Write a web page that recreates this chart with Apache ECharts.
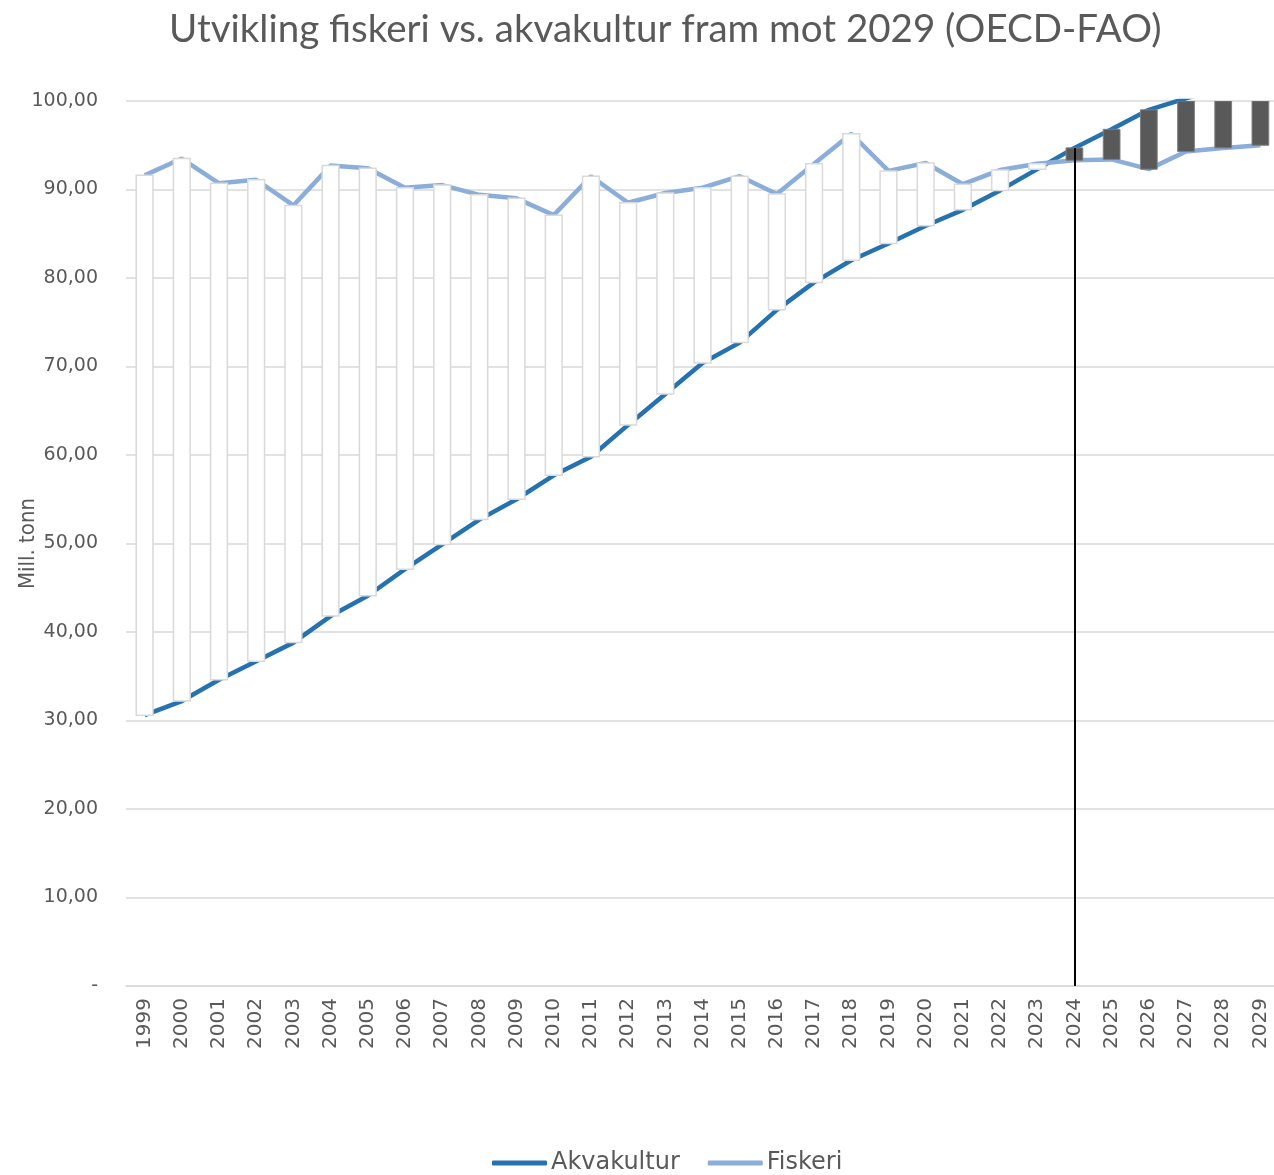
<!DOCTYPE html>
<html>
<head>
<meta charset="utf-8">
<script src="https://cdn.jsdelivr.net/npm/echarts@6/dist/echarts.min.js"></script>
<style>
  html, body { margin: 0; padding: 0; background: #fff; }
  #main { width: 1274px; height: 1175px; }
</style>
</head>
<body>
<div id="main"></div>
<script>
    // data (mill. tonn)
    var years = ['1999','2000','2001','2002','2003','2004','2005','2006','2007','2008',
                 '2009','2010','2011','2012','2013','2014','2015','2016','2017','2018',
                 '2019','2020','2021','2022','2023','2024','2025','2026','2027','2028','2029']
    var akvakultur = [30.6, 32.2, 34.6, 36.7, 38.8, 41.8, 44.1, 47.1, 49.9, 52.7,
                      55.0, 57.7, 59.8, 63.4, 66.9, 70.4, 72.7, 76.4, 79.5, 82.0,
                      83.9, 85.9, 87.7, 89.9, 92.3, 94.7, 96.8, 99.0, 100.3, 101.5, 102.7]
    var fiskeri = [91.6, 93.5, 90.7, 91.1, 88.2, 92.7, 92.4, 90.2, 90.5, 89.4,
                   89.0, 87.1, 91.5, 88.5, 89.6, 90.2, 91.5, 89.5, 92.9, 96.3,
                   92.1, 93.0, 90.6, 92.2, 92.9, 93.3, 93.4, 92.3, 94.3, 94.7, 95.0]
    var markYear = '2024'

    var myChart = echarts.init(document.getElementById('main'))

    var textColor = '#595959'
    var font = '"DejaVu Sans", sans-serif'

    // up/down bars between the two lines (Excel style)
    var barData = years.map(function (y, i) { return [i, akvakultur[i], fiskeri[i]] })

    function renderBar(params, api) {
        var i = api.value(0)
        var a = api.value(1)
        var f = api.value(2)
        var p1 = api.coord([i, a])
        var p2 = api.coord([i, f])
        var w = api.size([1, 0])[0] * 0.45
        var cs = params.coordSys
        var rect = echarts.graphic.clipRectByRect({
            x: p1[0] - w / 2,
            y: Math.min(p1[1], p2[1]),
            width: w,
            height: Math.abs(p1[1] - p2[1])
        }, { x: cs.x, y: cs.y, width: cs.width, height: cs.height })
        if (!rect) return
        var up = f >= a
        return {
            type: 'rect',
            shape: rect,
            style: {
                fill: up ? '#ffffff' : '#595959',
                stroke: up ? '#d9d9d9' : '#7f7f7f',
                lineWidth: up ? 1.5 : 1
            }
        }
    }

    var option = {
        animation: false,
        title: {
            text: 'Utvikling fiskeri vs. akvakultur fram mot 2029 (OECD-FAO)',
            left: 164,
            top: 5,
            textStyle: { fontFamily: 'Lato, sans-serif', fontSize: 38.5, fontWeight: 'normal', color: textColor }
        },
        legend: {
            bottom: -5,
            left: 487,
            icon: 'roundRect',
            itemWidth: 55,
            itemHeight: 5,
            itemGap: 28,
            data: ['Akvakultur', 'Fiskeri'],
            textStyle: { fontFamily: font, fontSize: 24, color: textColor, padding: [0, 0, 0, -1] }
        },
        grid: { left: 126, right: -5, top: 101, bottom: 189, outerBoundsMode: 'none' },
        xAxis: {
            type: 'category',
            data: years,
            boundaryGap: true,
            axisLine: { lineStyle: { color: '#d9d9d9', width: 1.5 } },
            axisTick: { show: false },
            axisLabel: {
                rotate: 90,
                margin: 12,
                interval: 0,
                fontFamily: font,
                fontSize: 20,
                color: textColor
            }
        },
        yAxis: {
            type: 'value',
            min: 0,
            max: 100,
            interval: 10,
            name: 'Mill. tonn',
            nameLocation: 'middle',
            nameGap: 87,
            nameMoveOverlap: false,
            nameTextStyle: { fontFamily: '"DejaVu Sans Condensed", sans-serif', fontSize: 22, color: textColor },
            axisLine: { show: false },
            axisTick: { show: false },
            splitLine: { lineStyle: { color: '#d9d9d9', width: 1.5 } },
            axisLabel: {
                margin: 28,
                fontFamily: font,
                fontSize: 19,
                color: textColor,
                formatter: function (v) {
                    return v === 0 ? '-' : v.toFixed(2).replace('.', ',')
                }
            }
        },
        series: [
            {
                name: 'Akvakultur',
                type: 'line',
                data: akvakultur,
                symbol: 'none',
                clip: true,
                z: 2,
                lineStyle: { color: '#2672b0', width: 4.5 },
                itemStyle: { color: '#2672b0' }
            },
            {
                name: 'Fiskeri',
                type: 'line',
                data: fiskeri,
                symbol: 'none',
                clip: true,
                z: 2,
                lineStyle: { color: '#8badd9', width: 4.5 },
                itemStyle: { color: '#8badd9' }
            },
            {
                name: 'updown',
                type: 'custom',
                data: barData,
                encode: { x: 0, y: [1, 2] },
                renderItem: renderBar,
                clip: true,
                z: 3,
                silent: true,
                markLine: {
                    silent: true,
                    symbol: 'none',
                    label: { show: false },
                    lineStyle: { color: '#000000', width: 2, type: 'solid' },
                    data: [[
                        { coord: [markYear, 0] },
                        { coord: [markYear, akvakultur[years.indexOf(markYear)]] }
                    ]]
                }
            }
        ]
    }

    myChart.setOption(option)
</script>
</body>
</html>
